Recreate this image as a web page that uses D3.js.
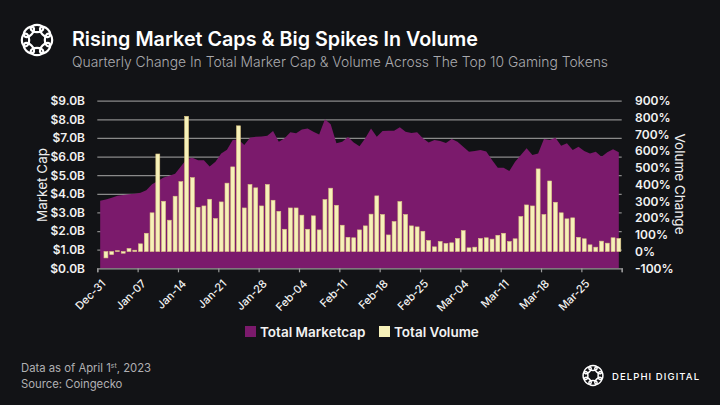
<!DOCTYPE html>
<html>
<head>
<meta charset="utf-8">
<script src="https://cdn.jsdelivr.net/npm/d3@7"></script>
<style>
  html, body { margin: 0; padding: 0; background: #121316; }
  svg { display: block; }
  text { font-family: Inter, "Noto Sans", sans-serif; }
</style>
</head>
<body>
<svg id="chart" width="720" height="405"></svg>
<script>
// ---------- DATA ----------
const dates = [
  "2022-12-31",
  "2023-01-01","2023-01-02","2023-01-03","2023-01-04","2023-01-05","2023-01-06","2023-01-07","2023-01-08","2023-01-09","2023-01-10",
  "2023-01-11","2023-01-12","2023-01-13","2023-01-14","2023-01-15","2023-01-16","2023-01-17","2023-01-18","2023-01-19","2023-01-20",
  "2023-01-21","2023-01-22","2023-01-23","2023-01-24","2023-01-25","2023-01-26","2023-01-27","2023-01-28","2023-01-29","2023-01-30",
  "2023-01-31","2023-02-01","2023-02-02","2023-02-03","2023-02-04","2023-02-05","2023-02-06","2023-02-07","2023-02-08","2023-02-09",
  "2023-02-10","2023-02-11","2023-02-12","2023-02-13","2023-02-14","2023-02-15","2023-02-16","2023-02-17","2023-02-18","2023-02-19",
  "2023-02-20","2023-02-21","2023-02-22","2023-02-23","2023-02-24","2023-02-25","2023-02-26","2023-02-27","2023-02-28","2023-03-01",
  "2023-03-02","2023-03-03","2023-03-04","2023-03-05","2023-03-06","2023-03-07","2023-03-08","2023-03-09","2023-03-10","2023-03-11",
  "2023-03-12","2023-03-13","2023-03-14","2023-03-15","2023-03-16","2023-03-17","2023-03-18","2023-03-19","2023-03-20","2023-03-21",
  "2023-03-22","2023-03-23","2023-03-24","2023-03-25","2023-03-26","2023-03-27","2023-03-28","2023-03-29","2023-03-30","2023-03-31"
];

// Total market cap, $B
const marketCap = [
  3.63,
  3.69,3.79,3.90,3.94,3.97,4.01,4.06,4.19,4.51,4.69,
  4.88,4.97,5.08,5.46,5.87,5.94,5.80,5.80,5.46,5.72,
  6.17,6.37,6.89,6.92,6.62,7.01,7.07,7.08,7.12,7.37,
  6.80,6.98,7.30,7.25,7.46,7.51,7.33,7.19,8.01,7.73,
  6.71,6.80,7.05,6.75,6.55,6.98,7.51,7.07,7.37,7.39,
  7.39,7.58,7.33,7.26,7.30,6.98,6.76,6.89,6.83,6.73,
  6.94,6.80,6.53,6.26,6.30,6.35,6.27,5.81,5.40,5.40,
  5.22,5.72,6.08,6.44,6.08,6.17,6.94,6.89,7.01,6.58,
  6.71,6.35,6.53,6.30,6.17,6.26,5.99,6.23,6.39,6.23
];

// Total volume change, %
const volumeChange = [
  null,
  -38,-18,5,-10,18,8,46,109,231,582,
  300,187,330,417,807,441,264,272,312,197,
  296,408,505,750,260,400,380,272,400,306,
  240,133,260,260,217,133,213,129,310,378,
  276,157,85,82,129,153,223,332,221,99,
  179,298,221,153,147,121,66,28,60,48,
  52,78,125,22,26,78,82,74,97,109,
  60,76,209,278,272,493,221,421,294,231,
  195,201,85,76,40,26,62,50,82,78
];

const xTickLabels = ["Dec-31","Jan-07","Jan-14","Jan-21","Jan-28","Feb-04","Feb-11","Feb-18","Feb-25","Mar-04","Mar-11","Mar-18","Mar-25"];
const capTicks = [0,1,2,3,4,5,6,7,8,9];
const volTicks = [-100,0,100,200,300,400,500,600,700,800,900];

const seriesNames = ["Total Marketcap","Total Volume"];
const seriesColors = ["#7b1a6c","#f6f1b9"];

// ---------- CHART ----------
const svg = d3.select("#chart");
svg.append("rect").attr("width",720).attr("height",405).attr("fill","#121316");

const X0 = 97.3, X1 = 621.7, YB = 268.3, YT = 100.7;

const xBand = d3.scaleBand().domain(dates).range([X0, X1]).padding(0);
const xIdx = d3.scaleLinear().domain([0, dates.length]).range([X0, X1]);
const yL = d3.scaleLinear().domain([0, 9]).range([YB, YT]);
const yR = d3.scaleLinear().domain([-100, 900]).range([YB, YT]);
const cx = d => xBand(d) + xBand.bandwidth() / 2;

// grid lines
const grid = svg.append("g").attr("transform", `translate(${X0},0)`)
  .call(d3.axisLeft(yL).tickValues(capTicks.slice(1)).tickSize(-(X1 - X0)).tickFormat(""));
grid.select(".domain").remove();
grid.selectAll("line").attr("stroke", "#8a8a8a").attr("stroke-width", 1.3);

// area
const area = d3.area()
  .x((d, i) => cx(dates[i]))
  .y0(yL(0))
  .y1(d => yL(d));
svg.append("path").datum(marketCap).attr("d", area).attr("fill", seriesColors[0]);

// bars
const bw = xBand.bandwidth() * 0.68;
svg.append("g").selectAll("rect")
  .data(volumeChange.map((v, i) => ({ d: dates[i], v })).filter(o => o.v !== null))
  .join("rect")
  .attr("x", o => cx(o.d) - bw / 2)
  .attr("width", bw)
  .attr("y", o => Math.min(yR(o.v), yR(0)))
  .attr("height", o => Math.abs(yR(o.v) - yR(0)))
  .attr("fill", seriesColors[1])
  .attr("stroke", "#dcc584")
  .attr("stroke-width", 0.6);

// x axis
const xTickIdx = xTickLabels.map((_, k) => k * 7).concat([dates.length]);
const xAxis = svg.append("g").attr("transform", `translate(0,${YB})`)
  .call(d3.axisBottom(xIdx).tickValues(xTickIdx).tickSize(4).tickFormat(""));
xAxis.select(".domain").attr("stroke", "#9a9a9a").attr("stroke-width", 1.3);
xAxis.selectAll("line").attr("stroke", "#9a9a9a").attr("stroke-width", 1.2);

svg.append("g").selectAll("text").data(xTickLabels).join("text")
  .attr("transform", (t, k) => `translate(${xIdx(k * 7) + 9},${YB + 16}) rotate(-45)`)
  .attr("text-anchor", "end")
  .attr("fill", "#f2f2f2")
  .attr("font-size", 11)
  .attr("font-weight", 500)
  .text(t => t);

// left axis
const la = svg.append("g").attr("transform", `translate(89,0)`)
  .call(d3.axisLeft(yL).tickValues(capTicks).tickSize(0).tickPadding(4).tickFormat(d => `$${d.toFixed(1)}B`));
la.select(".domain").remove();
la.selectAll("text").attr("fill", "#f2f2f2").attr("font-size", 12).attr("font-weight", 600)
  .attr("font-family", "Inter, sans-serif");

// right axis
const ra = svg.append("g").attr("transform", `translate(631,0)`)
  .call(d3.axisRight(yR).tickValues(volTicks).tickSize(0).tickPadding(4).tickFormat(d => `${d}%`));
ra.select(".domain").remove();
ra.selectAll("text").attr("fill", "#f2f2f2").attr("font-size", 12).attr("font-weight", 600)
  .attr("font-family", "Inter, sans-serif");

// axis titles
svg.append("text").attr("transform", "translate(47,185) rotate(-90)")
  .attr("text-anchor", "middle").attr("fill", "#eeeeee").attr("font-size", 13.5)
  .text("Market Cap");
svg.append("text").attr("transform", "translate(675,184) rotate(90)")
  .attr("text-anchor", "middle").attr("fill", "#eeeeee").attr("font-size", 13.5)
  .text("Volume Change");

// title & subtitle
svg.append("text").attr("x", 72).attr("y", 46).attr("fill", "#ffffff")
  .attr("font-size", 20).attr("font-weight", 600)
  .attr("textLength", 406).attr("lengthAdjust", "spacingAndGlyphs")
  .text("Rising Market Caps & Big Spikes In Volume");
svg.append("text").attr("x", 72).attr("y", 67).attr("fill", "#a9a9ad")
  .attr("font-size", 14.5).attr("font-weight", 300)
  .attr("textLength", 536).attr("lengthAdjust", "spacingAndGlyphs")
  .text("Quarterly Change In Total Marker Cap & Volume Across The Top 10 Gaming Tokens");

// logo drawing helper
function logo(g, cxp, cyp, r, sw) {
  const n = 8;
  for (let k = 0; k < n; k++) {
    const a = (k / n) * 2 * Math.PI;
    g.append("ellipse")
      .attr("cx", cxp + r * Math.cos(a)).attr("cy", cyp + r * Math.sin(a))
      .attr("rx", r * 0.55).attr("ry", r * 0.32)
      .attr("transform", `rotate(${a * 180 / Math.PI + 90},${cxp + r * Math.cos(a)},${cyp + r * Math.sin(a)})`)
      .attr("fill", "none").attr("stroke", "#ffffff").attr("stroke-width", sw);
  }
}
logo(svg.append("g"), 37, 40, 11.5, 2.2);
logo(svg.append("g"), 593, 375.5, 7.5, 1.5);

// legend
const legend = svg.append("g");
const legItems = [{ x: 245, w: 103 }, { x: 379, w: 83 }];
seriesNames.forEach((name, i) => {
  legend.append("rect").attr("x", legItems[i].x).attr("y", 326).attr("width", 11).attr("height", 11)
    .attr("fill", seriesColors[i]);
  legend.append("text").attr("x", legItems[i].x + 15).attr("y", 337)
    .attr("fill", "#f2f2f2").attr("font-size", 13.5).attr("font-weight", 600)
    .text(name);
});

// footer
const f1 = svg.append("text").attr("x", 21).attr("y", 372).attr("fill", "#b0b0b3").attr("font-size", 11.3);
f1.append("tspan").text("Data as of April 1");
f1.append("tspan").attr("font-size", 7).attr("dy", -4).text("st");
f1.append("tspan").attr("dy", 4).text(", 2023");
svg.append("text").attr("x", 21).attr("y", 388).attr("fill", "#b0b0b3").attr("font-size", 11.3)
  .text("Source: Coingecko");

svg.append("text").attr("x", 612).attr("y", 379.5).attr("fill", "#ffffff")
  .attr("font-size", 9.5).attr("font-weight", 500)
  .attr("textLength", 87).attr("lengthAdjust", "spacing")
  .text("DELPHI DIGITAL");
</script>
</body>
</html>
